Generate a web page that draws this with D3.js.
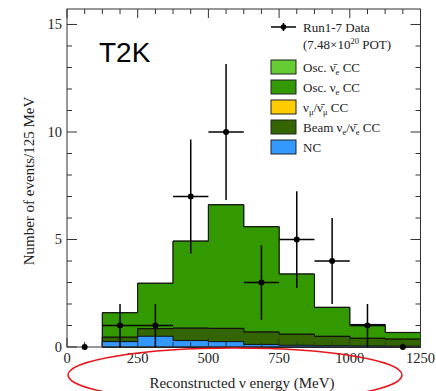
<!DOCTYPE html>
<html><head><meta charset="utf-8">
<script src="https://cdn.jsdelivr.net/npm/d3@7"></script>
<style>html,body{margin:0;padding:0;background:#fff;}svg{display:block;}</style>
</head><body>
<svg id="c" width="436" height="391"></svg>
<script>
// ---- data ----
const binLow = [125, 250, 375, 500, 625, 750, 875, 1000, 1125];
const binWidth = 125;
const ncVals      = [0.25, 0.50, 0.30, 0.25, 0.12, 0.08, 0.06, 0.05, 0.04];
const beamVals    = [0.20, 0.35, 0.57, 0.61, 0.57, 0.51, 0.43, 0.35, 0.32];
const numuVals    = [0.01, 0.01, 0.01, 0.01, 0.01, 0.01, 0.01, 0.01, 0.01];
const oscNueVals  = [1.13, 2.10, 4.04, 5.74, 4.89, 2.79, 1.34, 0.63, 0.30];
const oscAntiVals = [0.01, 0.01, 0.01, 0.01, 0.01, 0.01, 0.01, 0.01, 0.01];
const dataX   = [62.5, 187.5, 312.5, 437.5, 562.5, 687.5, 812.5, 937.5, 1062.5, 1187.5];
const dataY   = [0, 1, 1, 7, 10, 3, 5, 4, 1, 0];
const errUp   = [0, 1.0, 1.0, 2.65, 3.16, 1.73, 2.24, 2.0, 1.0, 0];
const errDown = [0, 1.0, 1.0, 2.65, 3.16, 1.73, 2.24, 2.0, 1.0, 0];
const xTicks = [0, 250, 500, 750, 1000, 1250];
const yTicks = [0, 5, 10, 15];
const layerNames = ["NC", "Beam", "Numu", "OscNue", "OscAnti"];
const layerColors = ["#3399ff", "#336600", "#ffcc00", "#339900", "#66cc33"];

// ---- scales ----
const x = d3.scaleLinear().domain([0, 1250]).range([67, 420.5]);
const y = d3.scaleLinear().domain([0, 15.72]).range([347, 9]);
const svg = d3.select("#c");
const serif = "'Liberation Serif', 'Times New Roman', serif";

// ---- stacked histogram ----
const layers = [ncVals, beamVals, numuVals, oscNueVals, oscAntiVals];
const cum = [];
let run = binLow.map(() => 0);
layers.forEach(l => { run = run.map((v, i) => v + l[i]); cum.push(run.slice()); });

function stepPath(vals) {
  const p = d3.path();
  p.moveTo(x(binLow[0]), y(0));
  binLow.forEach((lo, i) => {
    p.lineTo(x(lo), y(vals[i]));
    p.lineTo(x(lo + binWidth), y(vals[i]));
  });
  p.lineTo(x(binLow[binLow.length - 1] + binWidth), y(0));
  p.closePath();
  return p.toString();
}
const hist = svg.append("g");
for (let k = cum.length - 1; k >= 0; k--) {
  hist.append("path").attr("d", stepPath(cum[k]))
    .attr("fill", layerColors[k]).attr("stroke", "#111").attr("stroke-width", 1);
}

// ---- frame and ticks ----
const ax = svg.append("g").attr("stroke", "#333").attr("stroke-width", 1);
ax.append("rect").attr("x", x(0)).attr("y", y(15.72)).attr("width", x(1250) - x(0))
  .attr("height", y(0) - y(15.72)).attr("fill", "none");
const xMinor = d3.range(0, 1250.1, 62.5);
xMinor.forEach(v => {
  const len = (v % 250 === 0) ? 9 : 5;
  ax.append("line").attr("x1", x(v)).attr("x2", x(v)).attr("y1", y(0)).attr("y2", y(0) - len);
  ax.append("line").attr("x1", x(v)).attr("x2", x(v)).attr("y1", y(15.72)).attr("y2", y(15.72) + len);
});
d3.range(0, 15.1, 1).forEach(v => {
  const len = (v % 5 === 0) ? 10 : 5;
  ax.append("line").attr("y1", y(v)).attr("y2", y(v)).attr("x1", x(0)).attr("x2", x(0) + len);
  ax.append("line").attr("y1", y(v)).attr("y2", y(v)).attr("x1", x(1250)).attr("x2", x(1250) - len);
});

// tick labels
svg.append("g").selectAll("text").data(xTicks).join("text")
  .attr("x", d => x(d)).attr("y", 363).attr("text-anchor", "middle")
  .attr("font-family", serif).attr("font-size", 14.5).attr("fill", "#222").text(d => d);
svg.append("g").selectAll("text").data(yTicks).join("text")
  .attr("x", 62).attr("y", d => y(d) + 5).attr("text-anchor", "end")
  .attr("font-family", serif).attr("font-size", 14.5).attr("fill", "#222").text(d => d);

// axis titles
svg.append("text").attr("x", 242).attr("y", 387.5).attr("text-anchor", "middle")
  .attr("font-family", serif).attr("font-size", 15).attr("fill", "#222")
  .text("Reconstructed \u03bd energy (MeV)");
svg.append("text").attr("transform", "translate(34,181) rotate(-90)").attr("text-anchor", "middle")
  .attr("font-family", serif).attr("font-size", 15).attr("fill", "#222")
  .text("Number of events/125 MeV");

// ---- data points ----
const dg = svg.append("g").attr("stroke", "#000").attr("stroke-width", 1.5);
dataX.forEach((dx, i) => {
  const dy = dataY[i];
  if (dy > 0) {
    dg.append("line").attr("x1", x(dx - 62.5)).attr("x2", x(dx + 62.5)).attr("y1", y(dy)).attr("y2", y(dy));
    dg.append("line").attr("x1", x(dx)).attr("x2", x(dx)).attr("y1", y(dy - errDown[i])).attr("y2", y(dy + errUp[i]));
  }
  dg.append("circle").attr("cx", x(dx)).attr("cy", y(dy)).attr("r", 3).attr("fill", "#000").attr("stroke", "none");
});

// ---- legend ----
const lg = svg.append("g").attr("font-family", serif).attr("font-size", 13).attr("fill", "#222");
lg.append("line").attr("x1", 271).attr("x2", 296).attr("y1", 27).attr("y2", 27).attr("stroke", "#000").attr("stroke-width", 1.5);
lg.append("line").attr("x1", 283.5).attr("x2", 283.5).attr("y1", 23).attr("y2", 31).attr("stroke", "#000").attr("stroke-width", 1.5);
lg.append("circle").attr("cx", 283.5).attr("cy", 27).attr("r", 2.8).attr("fill", "#000");
lg.append("text").attr("x", 303).attr("y", 31.5).text("Run1-7 Data");
const pot = lg.append("text").attr("x", 303).attr("y", 48.5);
pot.append("tspan").text("(7.48\u00d710");
pot.append("tspan").attr("dy", -5).attr("font-size", 8.5).text("20");
pot.append("tspan").attr("dy", 5).text(" POT)");

const legendItems = [
  {k: 4, parts: [["Osc. ",""], ["\u03bd\u0304",""], ["e","sub"], [" CC",""]]},
  {k: 3, parts: [["Osc. ",""], ["\u03bd",""], ["e","sub"], [" CC",""]]},
  {k: 2, parts: [["\u03bd",""], ["\u03bc","sub"], ["/\u03bd\u0304",""], ["\u03bc","sub"], [" CC",""]]},
  {k: 1, parts: [["Beam ",""], ["\u03bd",""], ["e","sub"], ["/\u03bd\u0304",""], ["e","sub"], [" CC",""]]},
  {k: 0, parts: [["NC",""]]}
];
legendItems.forEach((it, j) => {
  const yy = 60 + j * 20;
  lg.append("rect").attr("x", 271).attr("y", yy).attr("width", 25).attr("height", 14)
    .attr("fill", layerColors[it.k]).attr("stroke", "#222").attr("stroke-width", 1);
  const t = lg.append("text").attr("x", 303).attr("y", yy + 11.5);
  let down = false;
  it.parts.forEach(([s, m]) => {
    const ts = t.append("tspan").text(s);
    if (m === "sub" && !down) { ts.attr("dy", 3).attr("font-size", 8.5); down = true; }
    else if (m === "sub") { ts.attr("font-size", 8.5); }
    else if (down) { ts.attr("dy", -3); down = false; }
  });
});

// ---- annotations ----
svg.append("text").attr("x", 99).attr("y", 62).attr("font-family", "'Liberation Sans', Arial, sans-serif")
  .attr("font-size", 28).attr("fill", "#000").text("T2K");
svg.append("ellipse").attr("cx", 235).attr("cy", 375).attr("rx", 167).attr("ry", 27)
  .attr("fill", "none").attr("stroke", "#e8141b").attr("stroke-width", 1.5);
</script>
</body></html>
